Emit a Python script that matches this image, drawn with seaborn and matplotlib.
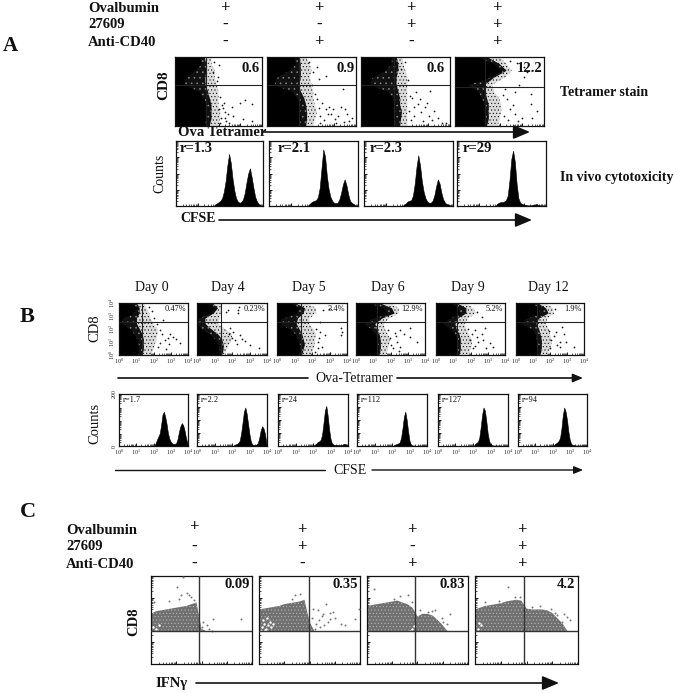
import matplotlib
matplotlib.use("Agg")
import matplotlib.pyplot as plt
import seaborn as sns

# figure size in pixels
W, H = 677, 693

rows_y = [0, 10, 20, 30, 40, 50, 60, 70, 80, 90, 100]
cols_x = [0, 5, 10, 15, 20, 25, 30, 35, 40, 45, 50, 55, 60, 65, 70, 75, 80, 85, 90, 95, 100]
hist_x = [41, 43, 45, 47, 49, 51, 53, 55, 57, 59, 61, 63, 65, 67, 69, 71, 73, 75, 77, 79, 81, 83, 85, 87, 89, 91, 93, 95, 97, 99]
decades = [0, 25, 50, 75, 100]
minors = [7.5, 12, 15, 17.5, 19.5, 21, 22.5, 24]
decade_labels = ['$\\mathregular{10^{0}}$', '$\\mathregular{10^{1}}$', '$\\mathregular{10^{2}}$', '$\\mathregular{10^{3}}$', '$\\mathregular{10^{4}}$']

# panel A, tetramer: right edge of the cloud per CD8 row
a1_dense = [34, 35, 35, 35, 33, 28, 10, 12, 22, 30, 28]
a1_mid = [40, 42, 42, 42, 40, 38, 35, 35, 36, 36, 34]
a1_light = [50, 52, 52, 50, 50, 50, 48, 46, 46, 42, 42]
a2_dense = [36, 37, 37, 36, 34, 28, 8, 10, 24, 32, 30]
a2_mid = [44, 45, 45, 44, 42, 38, 36, 38, 38, 38, 36]
a2_light = [52, 54, 56, 54, 52, 52, 50, 48, 50, 48, 44]
a3_dense = [37, 38, 38, 37, 36, 30, 10, 12, 26, 34, 34]
a3_mid = [44, 45, 46, 44, 44, 42, 40, 40, 42, 42, 40]
a3_light = [52, 52, 52, 52, 52, 52, 52, 52, 50, 48, 46]
a4_dense = [32, 34, 34, 33, 30, 26, 14, 38, 52, 44, 26]
a4_mid = [36, 38, 38, 38, 36, 34, 34, 44, 58, 50, 36]
a4_light = [48, 50, 52, 52, 50, 44, 42, 56, 64, 58, 50]

a1_dots = [(75, 34), (80, 37), (89, 32), (65, 27), (57, 20), (53, 12), (61, 17), (59, 7), (67, 15), (78, 10), (88, 7), (45, 93), (51, 88), (44, 78), (49, 71), (52, 42), (54, 30), (56, 34), (50, 24), (58, 12), (62, 5), (52, 4), (55, 26), (48, 65)]
a2_dots = [(56, 39), (62, 34), (66, 24), (72, 17), (76, 10), (83, 27), (90, 17), (95, 12), (85, 53), (66, 72), (56, 85), (47, 93), (52, 78), (58, 68), (60, 14), (64, 8), (70, 28), (78, 5), (86, 6), (92, 7), (68, 18), (58, 26), (54, 46), (74, 24), (80, 14), (88, 24), (50, 60), (60, 5)]
a3_dots = [(55, 44), (57, 40), (66, 39), (77, 51), (59, 27), (67, 20), (76, 15), (82, 22), (70, 7), (91, 5), (96, 5), (49, 93), (45, 83), (53, 66), (60, 14), (64, 32), (72, 28), (56, 8), (80, 8), (86, 12), (62, 50), (54, 22), (74, 34)]
a4_dots = [(85, 46), (85, 32), (77, 71), (81, 78), (67, 49), (56, 53), (62, 24), (67, 17), (75, 12), (71, 7), (87, 12), (58, 39), (60, 8), (65, 30), (55, 14), (72, 60), (70, 92), (62, 94), (78, 86), (54, 45), (92, 22)]

a_gates = [(36, 60), (36, 60), (37, 60), (34, 56)]
a_values = ['0.6', '0.9', '0.6', '12.2']
a_ratios = ['r=1.3', 'r=2.1', 'r=2.3', 'r=29']

a1_hist = [0, 0, 2, 4, 6, 8, 12, 22, 38, 62, 80, 66, 42, 24, 12, 7, 5, 6, 10, 20, 36, 50, 58, 44, 28, 14, 7, 3, 1, 0]
a2_hist = [0, 0, 2, 5, 7, 8, 9, 14, 28, 58, 87, 76, 46, 26, 14, 8, 5, 4, 5, 10, 20, 33, 41, 32, 18, 8, 5, 3, 1, 0]
a3_hist = [0, 0, 2, 4, 7, 8, 9, 16, 34, 60, 78, 62, 38, 22, 12, 7, 5, 5, 8, 16, 30, 41, 34, 20, 10, 5, 3, 2, 1, 0]
a4_hist = [0, 0, 3, 5, 6, 6, 7, 9, 16, 40, 72, 85, 68, 34, 12, 5, 3, 2, 2, 1, 1, 1, 2, 2, 3, 2, 1, 1, 1, 0]

# panel B
b1_dense = [26, 28, 28, 26, 22, 16, 4, 4, 20, 26, 16]
b1_mid = [34, 36, 36, 36, 34, 30, 26, 26, 30, 30, 26]
b1_light = [46, 50, 52, 54, 56, 56, 50, 46, 44, 40, 36]
b2_dense = [30, 32, 30, 26, 18, 6, 0, 0, 18, 26, 14]
b2_mid = [36, 38, 38, 36, 30, 20, 12, 12, 24, 30, 22]
b2_light = [40, 42, 46, 50, 50, 40, 30, 32, 34, 36, 34]
b3_dense = [30, 32, 32, 30, 26, 18, 4, 6, 26, 32, 20]
b3_mid = [36, 38, 40, 38, 36, 32, 28, 30, 38, 40, 26]
b3_light = [48, 52, 54, 54, 56, 52, 46, 46, 56, 56, 42]
b4_dense = [28, 30, 30, 30, 28, 22, 12, 22, 46, 40, 20]
b4_mid = [34, 36, 36, 36, 34, 30, 28, 38, 56, 52, 34]
b4_light = [44, 46, 48, 50, 46, 42, 40, 48, 62, 62, 50]
b5_dense = [28, 30, 30, 30, 28, 22, 10, 18, 34, 32, 22]
b5_mid = [34, 36, 36, 36, 34, 30, 28, 32, 44, 44, 30]
b5_light = [48, 50, 52, 52, 48, 44, 42, 46, 58, 54, 44]
b6_dense = [30, 32, 32, 30, 28, 24, 8, 14, 34, 34, 24]
b6_mid = [36, 38, 38, 38, 36, 34, 30, 34, 48, 44, 32]
b6_light = [46, 50, 52, 52, 50, 48, 44, 46, 56, 54, 44]

b1_dots = [(44, 92), (64, 67), (59, 48), (71, 32), (78, 35), (88, 24), (73, 22), (57, 16), (62, 40), (66, 28), (50, 72), (55, 60), (68, 12), (48, 85), (60, 24), (74, 40), (82, 30)]
b2_dots = [(42, 83), (58, 86), (59, 80), (47, 51), (62, 38), (50, 32), (76, 19), (88, 13), (57, 22), (44, 86), (52, 44), (46, 40), (64, 30), (68, 26), (54, 28), (60, 92)]
b3_dots = [(91, 51), (93, 45), (92, 38), (62, 45), (64, 16), (54, 6), (66, 86), (74, 89), (59, 25), (76, 3), (60, 32), (68, 38), (56, 50), (62, 64), (58, 14)]
b4_dots = [(64, 48), (78, 51), (49, 32), (59, 25), (64, 16), (78, 35), (88, 25), (54, 13), (70, 40), (56, 42), (58, 36), (62, 8), (50, 20), (46, 48)]
b5_dots = [(57, 48), (71, 51), (66, 41), (49, 29), (61, 25), (83, 16), (73, 13), (54, 13), (66, 73), (59, 83), (52, 40), (60, 34), (68, 28), (46, 50), (78, 24), (56, 18)]
b6_dots = [(67, 54), (59, 45), (52, 29), (64, 25), (74, 25), (86, 16), (50, 13), (64, 16), (57, 88), (56, 36), (60, 20), (70, 40), (48, 46)]

days = ['Day 0', 'Day 4', 'Day 5', 'Day 6', 'Day 9', 'Day 12']
b_gates = [(34, 63), (34, 63), (34, 63), (31, 63), (30, 63), (31, 63)]
b_values = ['0.47%', '0.23%', '3.4%', '12.9%', '5.2%', '1.9%']
b_ratios = ['r=1.7', 'r=2.2', 'r=24', 'r=112', 'r=127', 'r=94']

b1_hist = [0, 0, 0, 0, 0, 0, 5, 12, 18, 24, 40, 60, 66, 56, 42, 24, 14, 8, 5, 4, 4, 6, 14, 28, 38, 44, 40, 30, 16, 6]
b2_hist = [0, 0, 0, 0, 0, 0, 2, 3, 4, 6, 10, 24, 44, 66, 74, 62, 42, 22, 8, 3, 2, 2, 3, 6, 16, 30, 38, 34, 24, 6]
b3_hist = [0, 0, 0, 0, 0, 1, 3, 5, 8, 9, 12, 22, 44, 68, 77, 58, 32, 14, 5, 3, 2, 2, 2, 1, 2, 2, 3, 4, 3, 1]
b4_hist = [0, 0, 0, 0, 0, 0, 2, 3, 4, 5, 7, 16, 34, 56, 66, 50, 28, 10, 3, 1, 1, 1, 0, 1, 1, 1, 1, 1, 1, 0]
b5_hist = [0, 0, 0, 0, 0, 0, 4, 6, 8, 16, 36, 60, 74, 68, 48, 24, 10, 3, 2, 1, 1, 1, 1, 1, 1, 0, 0, 1, 0, 0]
b6_hist = [0, 0, 0, 0, 0, 0, 3, 5, 7, 10, 16, 34, 60, 74, 66, 50, 28, 12, 4, 2, 2, 1, 1, 1, 1, 1, 1, 1, 1, 1]

# panel C: top edge of the grey cloud per IFNg column, cloud sits on the CD8 gate
c1_top = [57, 60, 61, 62, 63, 64, 65, 66, 68, 70, 40, 37, 37, 37, 37, 37, 37, 37, 37, 37, 37]
c2_top = [62, 63, 64, 65, 66, 68, 69, 70, 71, 73, 48, 37, 37, 37, 37, 37, 37, 37, 37, 37, 37]
c3_top = [66, 67, 68, 69, 70, 71, 72, 70, 68, 64, 54, 57, 57, 55, 50, 44, 37, 37, 37, 37, 37]
c4_top = [62, 64, 66, 67, 68, 69, 71, 72, 73, 72, 63, 62, 62, 62, 61, 58, 52, 46, 37, 37, 37]

c1_dots = [(32, 99), (26, 87), (36, 81), (38, 78), (30, 78), (18, 72), (61, 51), (89, 51), (51, 48), (55, 44), (3, 71), (50, 42), (57, 40), (60, 38), (28, 74), (40, 76), (43, 73)]
c2_dots = [(58, 61), (66, 68), (73, 59), (63, 57), (70, 51), (59, 50), (56, 46), (81, 46), (95, 51), (99, 63), (85, 44), (53, 62), (41, 79), (33, 74), (52, 52), (60, 42), (68, 48), (64, 44), (75, 52), (55, 40), (62, 54), (36, 78), (70, 58)]
c3_dots = [(7, 85), (82, 57), (75, 48), (79, 46), (52, 61), (60, 59), (67, 61), (41, 78), (27, 74), (74, 52), (72, 45), (64, 60), (45, 70), (33, 77)]
c4_dots = [(32, 88), (89, 53), (84, 48), (86, 57), (63, 66), (74, 63), (39, 76), (23, 72), (80, 56), (78, 58), (55, 65), (44, 76), (10, 70), (92, 50)]

c1_white = [(2, 42), (5, 40), (8, 44)]
c2_white = [(3, 42), (5, 46), (7, 40), (9, 44), (11, 48), (4, 50), (8, 52), (12, 42), (2, 38), (14, 45), (6, 39)]
c3_white = [(45, 40), (47, 43), (43, 38)]
c4_white = [(3, 40), (6, 44), (4, 47)]

c_gates = [(48, 37), (49.5, 37), (48, 37), (48, 37)]
c_values = ['0.09', '0.35', '0.83', '4.2']

# row labels and +/- marks
treat_names = ['Ovalbumin', '27609', 'Anti-CD40']
a_signs = [['+', '+', '+', '+'], ['-', '-', '+', '+'], ['-', '+', '-', '+']]
c_signs = [['+', '+', '+', '+'], ['-', '+', '-', '+'], ['-', '-', '+', '+']]

# axes boxes in pixels: x0, x1, y0, y1
a_scatter_box = [(175, 262, 57, 126), (267, 356, 57, 126), (361, 450, 57, 126), (455, 544, 57, 126)]
a_hist_box = [(176, 263, 141, 206), (269, 358, 141, 206), (364, 453, 141, 206), (457, 546, 141, 206)]
b_scatter_box = [(119, 188, 303, 355), (197, 267, 303, 355), (277, 347, 303, 355), (356, 425, 303, 355), (436, 505, 303, 355), (516, 584, 303, 355)]
b_hist_box = [(119, 188, 394, 446), (197, 267, 394, 446), (278, 348, 394, 446), (357, 427, 394, 446), (438, 508, 394, 446), (518, 587, 394, 446)]
c_box = [(151, 252, 576, 664), (259, 360, 576, 664), (367, 468, 576, 664), (475, 578, 576, 664)]

sns.set_theme(style="white")
plt.rcParams['font.family'] = ['Liberation Serif', 'DejaVu Serif']
plt.rcParams['mathtext.default'] = 'regular'
plt.rcParams['hatch.linewidth'] = 0.4

fig = plt.figure(figsize=(W / 100, H / 100), dpi=100, facecolor='white')

# overlay in pixel units for labels and arrows
bg = fig.add_axes([0, 0, 1, 1], zorder=5)
bg.set_xlim(0, W)
bg.set_ylim(H, 0)
bg.axis('off')
bg.patch.set_alpha(0)


def make_ax(box):
    x0, x1, y0, y1 = box
    ax = fig.add_axes([x0 / W, 1 - y1 / H, (x1 - x0) / W, (y1 - y0) / H])
    ax.set_xlim(0, 100)
    ax.set_ylim(0, 100)
    ax.set_xlabel('')
    ax.set_ylabel('')
    for s in ax.spines.values():
        s.set_linewidth(0.9)
        s.set_color('#111111')
    return ax


def log_ticks(ax, axis_name, length=1.5):
    pos = [d + m for d in decades[:-1] for m in minors]
    if axis_name == 'x':
        ax.set_xticks(decades)
        ax.set_xticks(pos, minor=True)
        ax.set_xticklabels([])
    else:
        ax.set_yticks(decades)
        ax.set_yticks(pos, minor=True)
        ax.set_yticklabels([])
    ax.tick_params(axis=axis_name, which='major', direction='in', length=length + 1, width=0.7, color='k', left=axis_name == 'y', bottom=axis_name == 'x')
    ax.tick_params(axis=axis_name, which='minor', direction='in', length=length, width=0.5, color='k', left=axis_name == 'y', bottom=axis_name == 'x')


def plot_dots(ax, dots, color='k', size=1.6):
    xs = [d[0] for d in dots]
    ys = [d[1] for d in dots]
    sns.scatterplot(x=xs, y=ys, s=size, color=color, linewidth=0, ax=ax, legend=False, zorder=4)
    ax.set_xlabel('')
    ax.set_ylabel('')


def tetramer_panel(box, dense, mid, light, dots, gate):
    ax = make_ax(box)
    # speckle of the cloud edge comes from the hatch
    ax.fill_betweenx(rows_y, 0, light, facecolor='#dcdcdc', edgecolor='#111111', hatch='.....', lw=0)
    ax.fill_betweenx(rows_y, 0, mid, facecolor='#111111', edgecolor='#8c8c8c', hatch='...', lw=0)
    ax.fill_betweenx(rows_y, 0, dense, color='black', lw=0)
    plot_dots(ax, dots)
    ax.axvline(gate[0], color='#222222', lw=0.8, zorder=5)
    ax.axhline(gate[1], color='#222222', lw=0.8, zorder=5)
    ax.set_xlim(0, 100)
    ax.set_ylim(0, 100)
    log_ticks(ax, 'x')
    log_ticks(ax, 'y')
    return ax


def cfse_panel(box, counts):
    ax = make_ax(box)
    sns.histplot(x=hist_x, weights=counts, bins=30, binrange=(40, 100), element='poly', color='black', alpha=1, linewidth=0.4, ax=ax, legend=False)
    ax.set_xlabel('')
    ax.set_ylabel('')
    ax.set_xlim(0, 100)
    ax.set_ylim(0, 100)
    log_ticks(ax, 'x')
    log_ticks(ax, 'y')
    return ax


def arrow(x0, x1, y, lw, head):
    bg.annotate('', xy=(x1, y), xytext=(x0, y), annotation_clip=False,
                arrowprops=dict(arrowstyle='-|>,head_length=%s,head_width=%s' % (head, head * 0.42), lw=lw, color='#111111', shrinkA=0, shrinkB=0))


def put(x, y, s, size, weight='normal', ha='left', rot=0):
    bg.text(x, y, s, fontsize=size, fontweight=weight, ha=ha, va='center', rotation=rot, color='#111111')


# panel A
bg_a = [(a1_dense, a1_mid, a1_light, a1_dots), (a2_dense, a2_mid, a2_light, a2_dots), (a3_dense, a3_mid, a3_light, a3_dots), (a4_dense, a4_mid, a4_light, a4_dots)]
for i, (dense, mid, light, dots) in enumerate(bg_a):
    tetramer_panel(a_scatter_box[i], dense, mid, light, dots, a_gates[i])
for i, counts in enumerate([a1_hist, a2_hist, a3_hist, a4_hist]):
    cfse_panel(a_hist_box[i], counts)

put(3, 46, 'A', 15, 'bold')
for r, name in enumerate(treat_names):
    y = [8, 25, 42][r]
    put(88, y, name, 10.5, 'bold')
    for c, x in enumerate([225, 319, 411, 497]):
        put(x, y, a_signs[r][c], 12, 'bold', 'center')
for x, v in zip([260, 355, 445, 543], a_values):
    put(x, 68, v, 10.5, 'bold', 'right')
for x, v in zip([180, 278, 370, 463], a_ratios):
    put(x, 149, v, 10.5, 'bold')
put(164, 85, 'CD8', 11, 'bold', 'center', 90)
put(160, 173, 'Counts', 10, 'normal', 'center', 90)
put(178, 132, 'Ova Tetramer', 10.5, 'bold')
arrow(263, 530, 132, 1.2, 0.85)
put(180, 219, 'CFSE', 10, 'bold')
arrow(219, 532, 220, 1.2, 0.85)
put(560, 93, 'Tetramer stain', 10, 'bold')
put(560, 177, 'In vivo cytotoxicity', 10, 'bold')

# panel B
bg_b = [(b1_dense, b1_mid, b1_light, b1_dots), (b2_dense, b2_mid, b2_light, b2_dots), (b3_dense, b3_mid, b3_light, b3_dots),
        (b4_dense, b4_mid, b4_light, b4_dots), (b5_dense, b5_mid, b5_light, b5_dots), (b6_dense, b6_mid, b6_light, b6_dots)]
for i, (dense, mid, light, dots) in enumerate(bg_b):
    ax = tetramer_panel(b_scatter_box[i], dense, mid, light, dots, b_gates[i])
    ax.set_xticklabels(decade_labels, fontsize=4.3)
    ax.tick_params(axis='x', which='major', pad=1.5)
    if i == 0:
        ax.set_yticklabels(decade_labels, fontsize=4.3, rotation=90, va='center')
        ax.tick_params(axis='y', which='major', pad=1.5)
    put(b_scatter_box[i][1] - 2, 309, b_values[i], 6, 'normal', 'right')
for i, counts in enumerate([b1_hist, b2_hist, b3_hist, b4_hist, b5_hist, b6_hist]):
    ax = cfse_panel(b_hist_box[i], counts)
    ax.set_xticklabels(decade_labels, fontsize=4.3)
    ax.tick_params(axis='x', which='major', pad=1.5)
    if i == 0:
        ax.set_yticks([0, 100])
        ax.set_yticklabels(['0', '200'], fontsize=4.3, rotation=90, va='center')
        ax.tick_params(axis='y', which='major', pad=1.5)
    put(b_hist_box[i][0] + 4, 400, b_ratios[i], 6)

put(20, 317, 'B', 16, 'bold')
for x, d in zip([152, 228, 309, 388, 468, 548], days):
    put(x, 288, d, 10, 'normal', 'center')
put(95, 328, 'CD8', 10.5, 'normal', 'center', 90)
put(95, 423, 'Counts', 10.5, 'normal', 'center', 90)
bg.plot([118, 308], [378, 378], color='#111111', lw=1.2)
put(315, 379, 'Ova-Tetramer', 10)
arrow(397, 583, 378, 1.2, 0.5)
bg.plot([115, 325], [470, 470], color='#111111', lw=1)
put(333, 470, 'CFSE', 10)
arrow(372, 583, 470, 1, 0.45)

# panel C
bg_c = [(c1_top, c1_dots, c1_white), (c2_top, c2_dots, c2_white), (c3_top, c3_dots, c3_white), (c4_top, c4_dots, c4_white)]
for i, (top, dots, white) in enumerate(bg_c):
    ax = make_ax(c_box[i])
    ax.fill_between(cols_x, 37, top, facecolor='#707070', edgecolor='#b8b8b8', hatch='.....', lw=0)
    plot_dots(ax, dots, color='#777777', size=2)
    plot_dots(ax, white, color='white', size=3)
    ax.axvline(c_gates[i][0], color='#333333', lw=1, zorder=5)
    ax.axhline(c_gates[i][1], color='#333333', lw=1, zorder=5)
    ax.set_xlim(0, 100)
    ax.set_ylim(0, 100)
    log_ticks(ax, 'x')
    log_ticks(ax, 'y')

put(20, 512, 'C', 16, 'bold')
for r, name in enumerate(treat_names):
    y = [530, 547, 564][r]
    put(66, y, name, 10.5, 'bold')
    for c, x in enumerate([194, 302, 412, 522]):
        put(x, y - (3 if r == 0 and c == 0 else 0), c_signs[r][c], 12, 'bold', 'center')
for x, v in zip([250, 358, 465, 575], c_values):
    put(x, 585, v, 10.5, 'bold', 'right')
put(134, 622, 'CD8', 10.5, 'bold', 'center', 90)
put(155, 683, 'IFNγ', 10.5, 'bold')
arrow(196, 559, 683, 1.2, 0.85)

fig.savefig('out.png', dpi=100, facecolor='white')
